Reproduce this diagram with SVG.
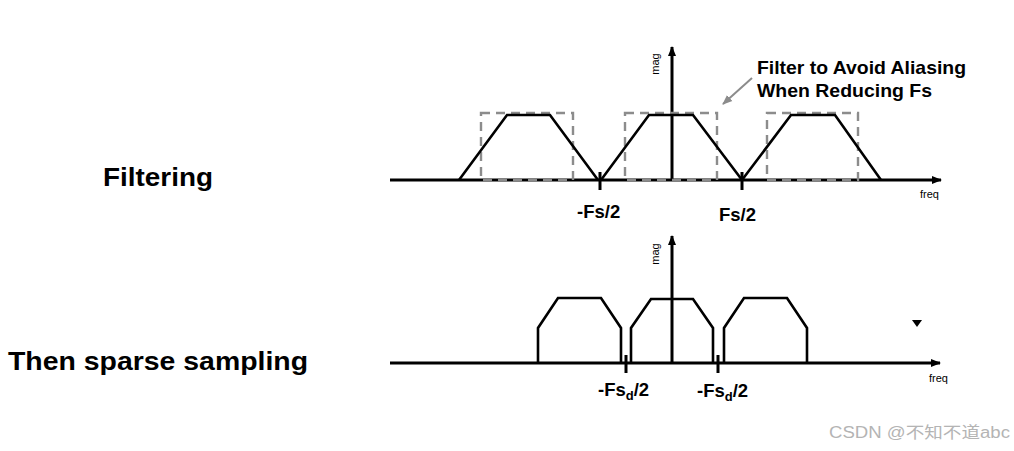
<svg xmlns="http://www.w3.org/2000/svg" width="1014" height="451" viewBox="0 0 1014 451">
<style>
.ax{stroke:#000;stroke-width:3;fill:none}
.sig{stroke:#000;stroke-width:2.6;fill:none;stroke-linejoin:miter}
.tick{stroke:#000;stroke-width:3}
.dash{stroke:#8c8c8c;stroke-width:2.4;fill:none;stroke-dasharray:9 6}
.big{font-family:"Liberation Sans",Arial,sans-serif;font-weight:bold;font-size:26px;fill:#000}
.lbl{font-family:"Liberation Sans",Arial,sans-serif;font-weight:bold;font-size:18.5px;fill:#000}
.sm{font-family:"Liberation Sans",Arial,sans-serif;font-size:11px;fill:#000}
.note{font-family:"Liberation Sans",Arial,sans-serif;font-weight:bold;font-size:19px;fill:#000}
.wm{font-family:"Liberation Sans","Noto Sans CJK SC",sans-serif;font-size:16px;fill:#b4b4b4}
</style>
<defs>
<marker id="ah" viewBox="0 0 10 10" refX="9" refY="5" markerWidth="10" markerHeight="10" markerUnits="userSpaceOnUse" orient="auto">
<path d="M0,1 L10,5 L0,9 Z" fill="#000"/>
</marker>
<marker id="gh" viewBox="0 0 10 10" refX="9" refY="5" markerWidth="10" markerHeight="10" markerUnits="userSpaceOnUse" orient="auto">
<path d="M0,1 L10,5 L0,9 Z" fill="#8c8c8c"/>
</marker>
</defs>
<rect width="1014" height="451" fill="#fff"/>

<g id="title-filtering"><text class="big" x="103" y="186" textLength="110" lengthAdjust="spacingAndGlyphs">Filtering</text></g>
<g id="title-sampling"><text class="big" x="8" y="370" textLength="300" lengthAdjust="spacingAndGlyphs">Then sparse sampling</text></g>

<g id="connectors">
<line class="ax" x1="390" y1="180" x2="941" y2="180" marker-end="url(#ah)"/>
<line class="ax" x1="672" y1="180" x2="672" y2="47" marker-end="url(#ah)"/>
<line class="ax" x1="390" y1="363" x2="940" y2="363" marker-end="url(#ah)"/>
<line class="ax" x1="672" y1="363" x2="672" y2="236" marker-end="url(#ah)"/>
<line x1="752" y1="78" x2="723" y2="104" stroke="#8c8c8c" stroke-width="2" marker-end="url(#gh)"/>
</g>

<g id="top-plot">
<rect class="dash" x="481" y="113" width="92" height="67"/>
<rect class="dash" x="625" y="113" width="92" height="67"/>
<rect class="dash" x="767" y="113" width="91" height="67"/>
<polyline class="sig" points="459,180 507,115 550,115 598,180"/>
<polyline class="sig" points="601,180 649,115 693,115 742,180"/>
<polyline class="sig" points="742,180 791,115 835,115 881,180"/>
<line class="tick" x1="600" y1="172" x2="600" y2="190"/>
<line class="tick" x1="742" y1="172" x2="742" y2="190"/>
<text class="sm" transform="translate(659,64) rotate(-90)" text-anchor="middle">mag</text>
<text class="sm" x="920" y="198">freq</text>
<text class="lbl" x="577" y="218">-Fs/2</text>
<text class="lbl" x="719" y="221">Fs/2</text>
<text class="note" x="757" y="74" textLength="209" lengthAdjust="spacingAndGlyphs">Filter to Avoid Aliasing</text>
<text class="note" x="757" y="97" textLength="175" lengthAdjust="spacingAndGlyphs">When Reducing Fs</text>
</g>

<g id="bottom-plot">
<polyline class="sig" points="538,363 538,328 558,298 601,298 621,328 621,363"/>
<polyline class="sig" points="631,363 631,328 651,299 693,299 713,328 713,363"/>
<polyline class="sig" points="724,363 724,328 744,298 787,298 807,328 807,363"/>
<line class="tick" x1="626" y1="355" x2="626" y2="373"/>
<line class="tick" x1="718" y1="355" x2="718" y2="373"/>
<text class="sm" transform="translate(659,254) rotate(-90)" text-anchor="middle">mag</text>
<text class="sm" x="929" y="382">freq</text>
<text class="lbl" x="598" y="396">-Fs<tspan font-size="13" dy="4">d</tspan><tspan dy="-4">/2</tspan></text>
<text class="lbl" x="697" y="397">-Fs<tspan font-size="13" dy="4">d</tspan><tspan dy="-4">/2</tspan></text>
<path d="M912,320 L922,320 L917,327 Z" fill="#000"/>
</g>

<g id="watermark"><text class="wm" x="829" y="438" textLength="181" lengthAdjust="spacingAndGlyphs">CSDN @不知不道abc</text></g>
</svg>
